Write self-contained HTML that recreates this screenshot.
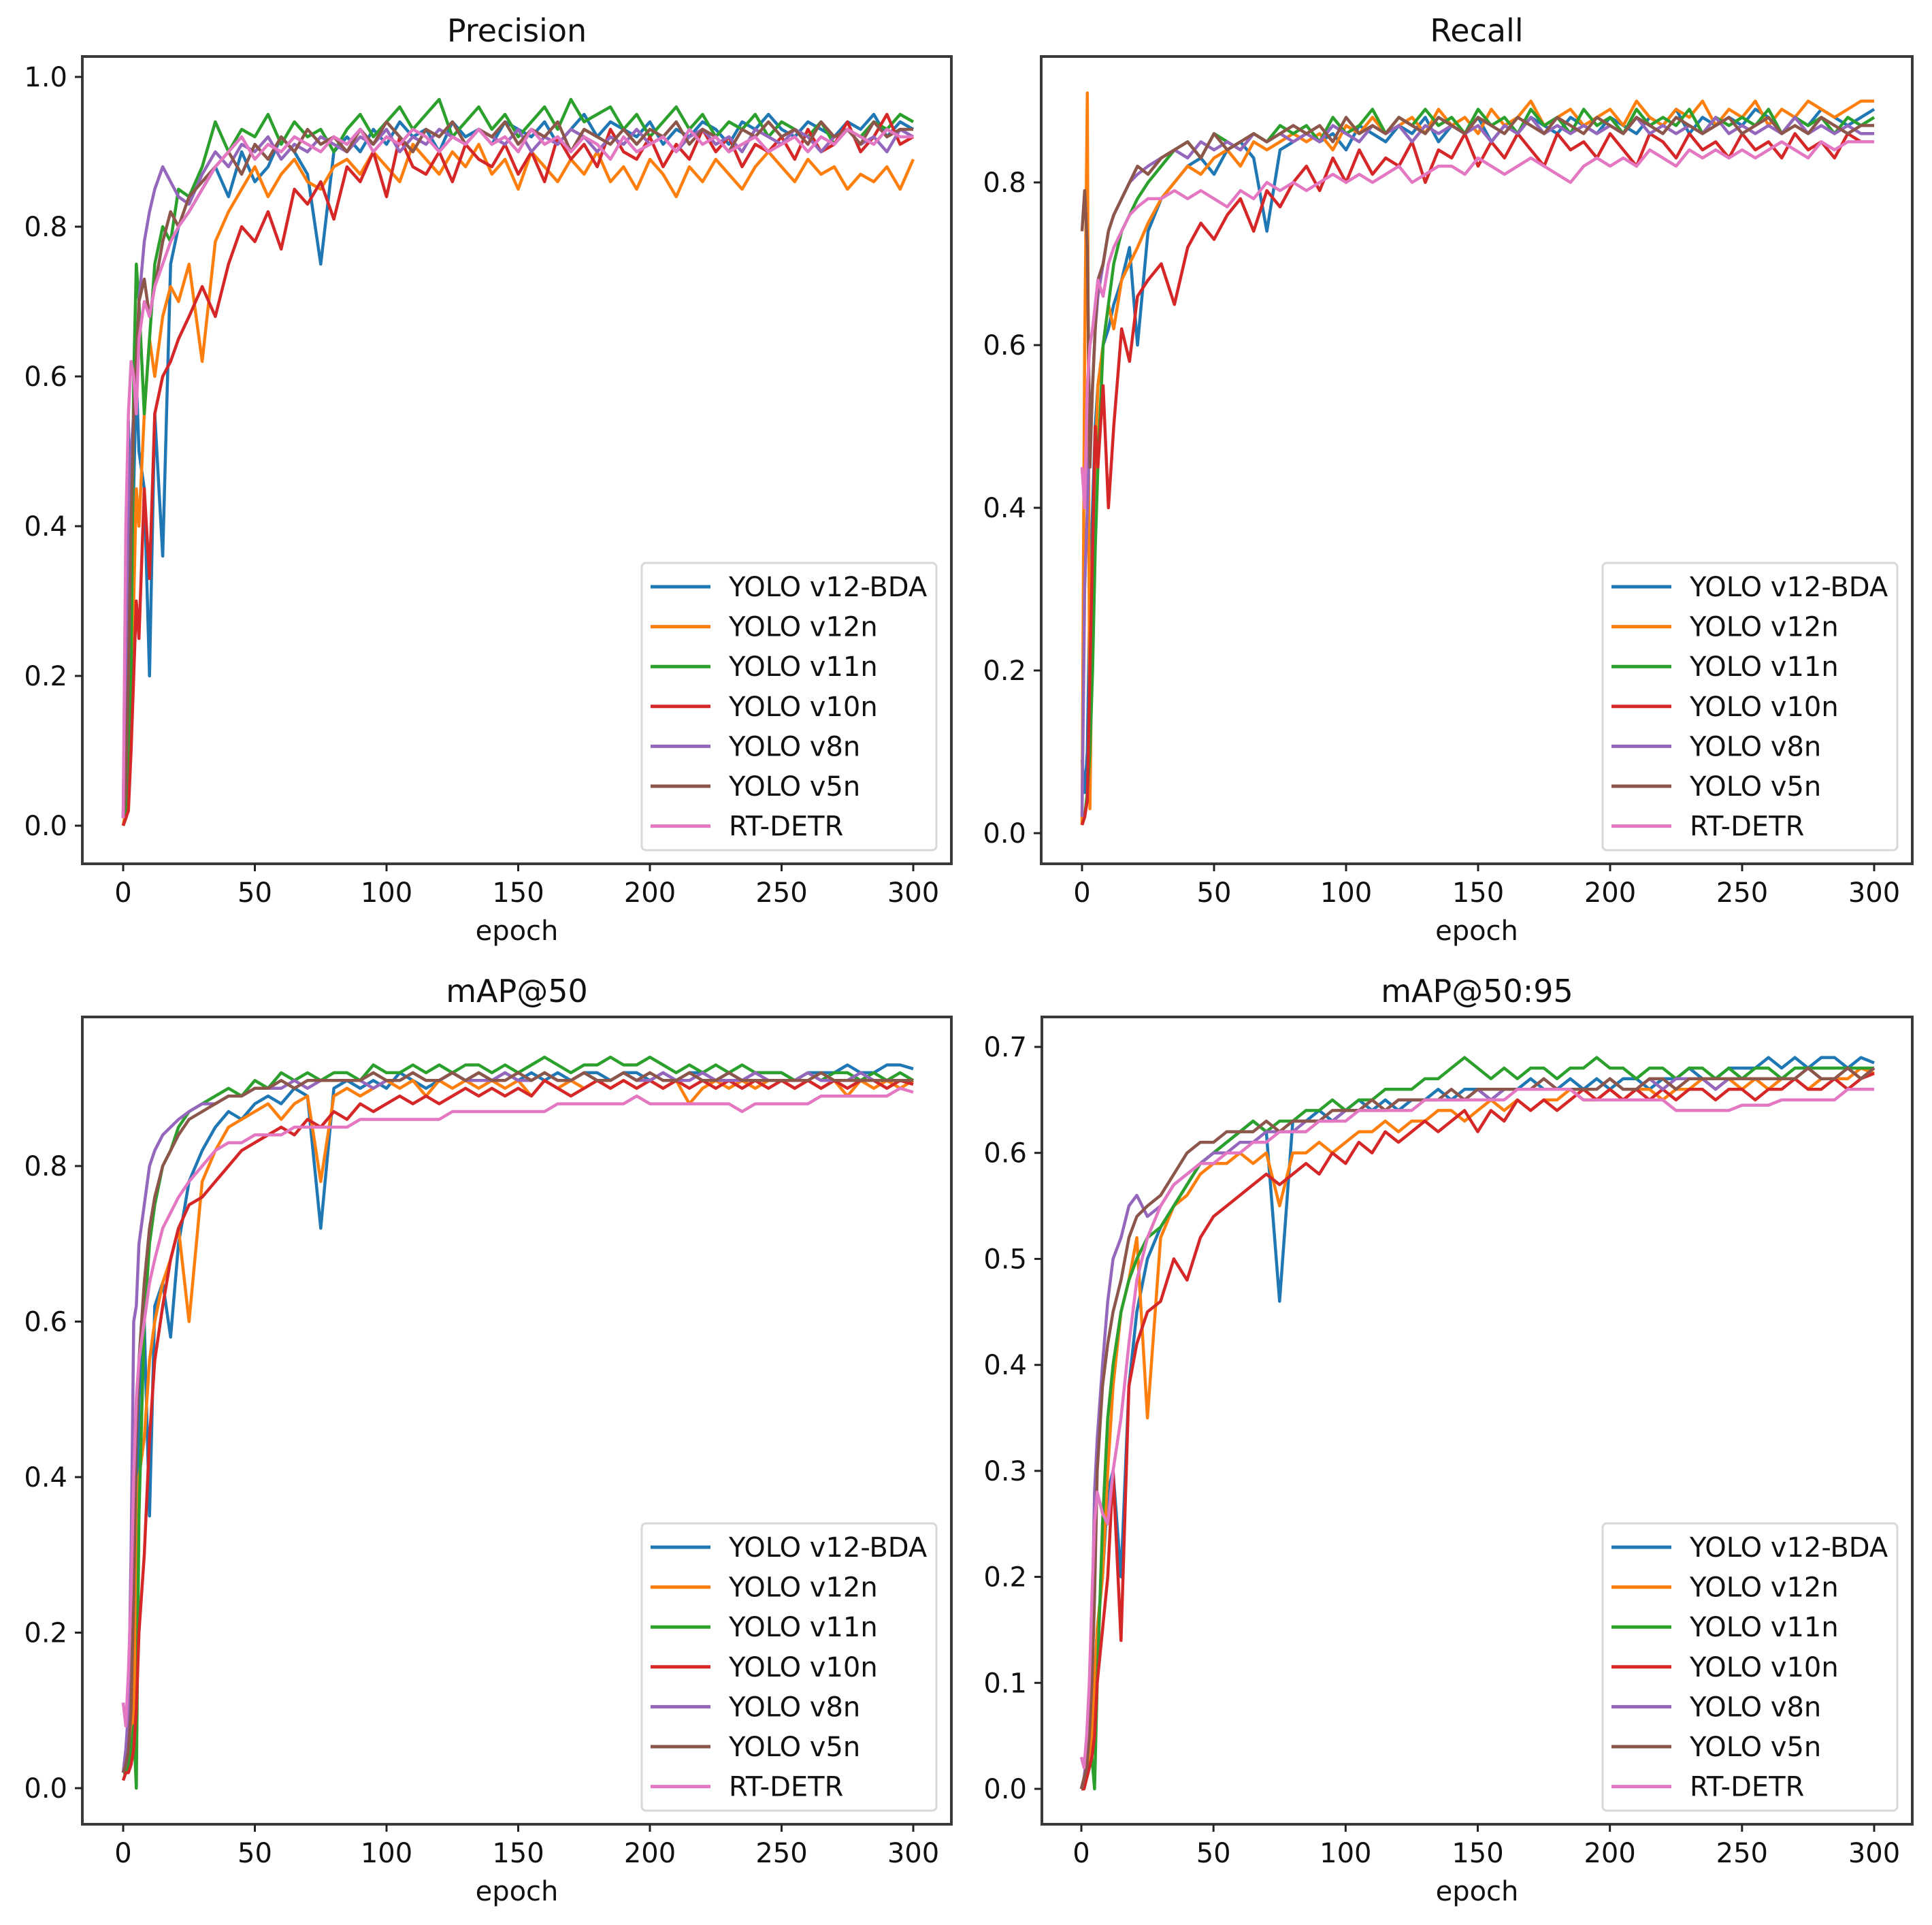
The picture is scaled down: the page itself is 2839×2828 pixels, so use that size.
<!DOCTYPE html>
<html><head><meta charset="utf-8">
<style>
html,body{margin:0;padding:0;background:#fff;}
svg{display:block;font-family:"DejaVu Sans","Liberation Sans",sans-serif;}
</style></head>
<body>
<svg id="fig" width="2839" height="2828" viewBox="0 0 2839 2828" xmlns="http://www.w3.org/2000/svg"></svg>
<script>
const epochs = [0,1,2,3,4,5,6,8,10,12,15,18,21,25,
30,35,40,45,50,55,60,65,70,75,80,85,90,95,100,105,110,115,120,125,130,135,140,145,150,155,160,165,170,175,180,185,190,195,200,205,210,215,220,225,230,235,240,245,250,255,260,265,270,275,280,285,290,295,300];
const seriesNames = ["YOLO v12-BDA","YOLO v12n","YOLO v11n","YOLO v10n","YOLO v8n","YOLO v5n","RT-DETR"];
const seriesColors = ["#1f77b4","#ff7f0e","#2ca02c","#d62728","#9467bd","#8c564b","#e377c2"];
const xTicks = [0,50,100,150,200,250,300];

const precisionBDA = [0.01,0.30,0.54,0.20,0.45,0.60,0.50,0.45,0.20,0.55,0.36,0.75,0.80,0.82,
0.85,0.88,0.84,0.90,0.86,0.88,0.92,0.90,0.87,0.75,0.90, 0.92,0.90,0.93,0.91,0.94,0.92,0.93,0.90,0.94,0.92,0.93,
0.91,0.94,0.93,0.92,0.94,0.91,0.93,0.95,0.92,0.94,0.93, 0.92,0.94,0.91,0.93,0.92,0.94,0.93,0.91,0.94,0.93,0.95,
0.93,0.92,0.94,0.93,0.92,0.94,0.93,0.95,0.92,0.94,0.93];
const precisionV12n = [0.00,0.02,0.05,0.10,0.30,0.45,0.40,0.55,0.65,0.60,0.68,0.72,0.70,0.75,
0.62,0.78,0.82,0.85,0.88,0.84,0.87,0.89,0.86,0.85,0.88, 0.89,0.87,0.90,0.88,0.86,0.91,0.89,0.87,0.90,0.88,0.91,
0.87,0.89,0.85,0.90,0.88,0.86,0.89,0.87,0.90,0.86,0.88, 0.85,0.89,0.87,0.84,0.88,0.86,0.89,0.87,0.85,0.88,0.90,
0.88,0.86,0.89,0.87,0.88,0.85,0.87,0.86,0.88,0.85,0.89];
const precisionV11n = [0.00,0.01,0.05,0.20,0.60,0.75,0.70,0.55,0.65,0.75,0.80,0.78,0.85,0.84,
0.88,0.94,0.90,0.93,0.92,0.95,0.91,0.94,0.92,0.93,0.90, 0.93,0.95,0.92,0.94,0.96,0.93,0.95,0.97,0.92,0.94,0.96,
0.93,0.95,0.92,0.94,0.96,0.93,0.97,0.94,0.95,0.96,0.93, 0.95,0.92,0.94,0.96,0.93,0.95,0.92,0.94,0.93,0.95,0.92,
0.94,0.93,0.92,0.94,0.91,0.93,0.92,0.94,0.93,0.95,0.94];
const precisionV10n = [0.00,0.01,0.02,0.10,0.20,0.30,0.25,0.45,0.33,0.55,0.60,0.62,0.65,0.68,
0.72,0.68,0.75,0.80,0.78,0.82,0.77,0.85,0.83,0.86,0.81, 0.88,0.86,0.90,0.84,0.92,0.88,0.87,0.90,0.86,0.91,0.89,
0.88,0.91,0.87,0.90,0.86,0.92,0.89,0.91,0.88,0.93,0.90, 0.89,0.92,0.88,0.91,0.89,0.93,0.90,0.92,0.88,0.91,0.90,
0.92,0.89,0.93,0.90,0.91,0.94,0.90,0.92,0.95,0.91,0.92];
const precisionV8n = [0.01,0.20,0.40,0.50,0.55,0.60,0.70,0.78,0.82,0.85,0.88,0.86,0.84,0.83,
0.87,0.90,0.88,0.91,0.90,0.92,0.89,0.91,0.90,0.92,0.91, 0.90,0.92,0.91,0.93,0.90,0.92,0.91,0.93,0.92,0.91,0.93,
0.92,0.91,0.93,0.90,0.92,0.91,0.93,0.92,0.90,0.92,0.91, 0.93,0.91,0.92,0.90,0.92,0.93,0.91,0.92,0.90,0.93,0.92,
0.91,0.93,0.92,0.90,0.92,0.93,0.91,0.92,0.90,0.93,0.92];
const precisionV5n = [0.01,0.05,0.20,0.40,0.55,0.62,0.70,0.73,0.68,0.72,0.78,0.82,0.80,0.84,
0.86,0.88,0.90,0.87,0.91,0.89,0.92,0.90,0.93,0.91,0.92, 0.90,0.93,0.91,0.94,0.92,0.90,0.93,0.92,0.94,0.91,0.93,
0.92,0.94,0.91,0.93,0.92,0.94,0.90,0.93,0.92,0.91,0.93, 0.91,0.93,0.92,0.94,0.91,0.93,0.92,0.90,0.93,0.92,0.94,
0.92,0.93,0.91,0.94,0.92,0.93,0.91,0.94,0.92,0.93,0.93];
const precisionRT = [0.01,0.40,0.55,0.62,0.60,0.55,0.65,0.70,0.68,0.72,0.75,0.78,0.80,0.82,
0.85,0.88,0.90,0.92,0.89,0.91,0.90,0.92,0.91,0.90,0.92, 0.91,0.93,0.90,0.92,0.91,0.93,0.92,0.90,0.92,0.91,0.93,
0.91,0.92,0.90,0.93,0.91,0.92,0.90,0.92,0.91,0.89,0.92, 0.90,0.91,0.92,0.90,0.93,0.91,0.92,0.90,0.91,0.92,0.90,
0.91,0.92,0.90,0.92,0.91,0.93,0.92,0.91,0.93,0.92,0.92];

const recallBDA = [0.09,0.05,0.10,0.30,0.40,0.50,0.55,0.60,0.62,0.65,0.68,0.72,0.60,0.74,
0.78,0.80,0.82,0.83,0.81,0.84,0.85,0.83,0.74,0.84,0.85, 0.86,0.85,0.86,0.84,0.87,0.86,0.85,0.87,0.86,0.88,0.85,
0.87,0.86,0.88,0.85,0.87,0.86,0.88,0.87,0.86,0.88,0.87, 0.86,0.88,0.87,0.86,0.88,0.87,0.89,0.86,0.88,0.87,0.88,
0.87,0.89,0.88,0.86,0.88,0.87,0.89,0.88,0.87,0.88,0.89];
const recallV12n = [0.01,0.60,0.91,0.03,0.30,0.45,0.55,0.60,0.65,0.62,0.68,0.70,0.72,0.75,
0.78,0.80,0.82,0.81,0.83,0.84,0.82,0.85,0.84,0.85,0.86, 0.85,0.86,0.84,0.87,0.86,0.88,0.86,0.87,0.88,0.86,0.89,
0.87,0.88,0.86,0.89,0.87,0.88,0.90,0.87,0.88,0.89,0.87, 0.88,0.89,0.87,0.90,0.88,0.87,0.89,0.88,0.90,0.87,0.89,
0.88,0.90,0.87,0.89,0.88,0.90,0.89,0.88,0.89,0.90,0.90];
const recallV11n = [0.01,0.02,0.05,0.10,0.20,0.35,0.45,0.60,0.65,0.70,0.74,0.76,0.78,0.80,
0.82,0.84,0.85,0.83,0.86,0.85,0.84,0.86,0.85,0.87,0.86, 0.87,0.85,0.88,0.86,0.87,0.89,0.86,0.88,0.87,0.89,0.87,
0.88,0.86,0.89,0.87,0.88,0.86,0.89,0.87,0.88,0.86,0.89, 0.87,0.88,0.86,0.89,0.87,0.88,0.87,0.89,0.86,0.88,0.87,
0.88,0.87,0.89,0.86,0.88,0.87,0.88,0.86,0.88,0.87,0.88];
const recallV10n = [0.01,0.02,0.04,0.20,0.35,0.50,0.45,0.55,0.40,0.50,0.62,0.58,0.66,0.68,
0.70,0.65,0.72,0.75,0.73,0.76,0.78,0.74,0.79,0.77,0.80, 0.82,0.79,0.83,0.80,0.84,0.81,0.83,0.82,0.85,0.80,0.84,
0.83,0.86,0.82,0.85,0.83,0.86,0.84,0.82,0.86,0.84,0.85, 0.83,0.86,0.84,0.82,0.86,0.85,0.83,0.86,0.84,0.85,0.83,
0.86,0.84,0.85,0.83,0.86,0.84,0.85,0.83,0.86,0.85,0.85];
const recallV8n = [0.02,0.30,0.40,0.50,0.55,0.62,0.66,0.70,0.74,0.76,0.78,0.80,0.81,0.82,
0.83,0.84,0.83,0.85,0.84,0.85,0.84,0.86,0.85,0.86,0.85, 0.86,0.85,0.87,0.86,0.85,0.87,0.86,0.87,0.85,0.87,0.86,
0.87,0.86,0.87,0.85,0.87,0.86,0.88,0.86,0.87,0.86,0.87, 0.86,0.87,0.86,0.88,0.86,0.87,0.86,0.87,0.86,0.88,0.86,
0.87,0.86,0.87,0.86,0.88,0.86,0.87,0.86,0.87,0.86,0.86];
const recallV5n = [0.74,0.79,0.72,0.45,0.55,0.62,0.68,0.70,0.74,0.76,0.78,0.80,0.82,0.81,
0.83,0.84,0.85,0.83,0.86,0.84,0.85,0.86,0.85,0.86,0.87, 0.86,0.87,0.85,0.88,0.86,0.87,0.86,0.88,0.87,0.86,0.88,
0.87,0.86,0.88,0.87,0.86,0.88,0.87,0.86,0.88,0.87,0.86, 0.88,0.87,0.86,0.88,0.87,0.86,0.88,0.87,0.86,0.87,0.88,
0.86,0.87,0.88,0.86,0.87,0.86,0.88,0.87,0.86,0.87,0.87];
const recallRT = [0.45,0.40,0.55,0.60,0.62,0.65,0.68,0.66,0.70,0.72,0.74,0.76,0.77,0.78,
0.78,0.79,0.78,0.79,0.78,0.77,0.79,0.78,0.80,0.79,0.80, 0.79,0.80,0.81,0.80,0.81,0.80,0.81,0.82,0.80,0.81,0.82,
0.82,0.81,0.83,0.82,0.81,0.82,0.83,0.82,0.81,0.80,0.82, 0.83,0.82,0.83,0.82,0.84,0.83,0.82,0.84,0.83,0.84,0.83,
0.84,0.83,0.84,0.85,0.84,0.83,0.85,0.84,0.85,0.85,0.85];

const map50BDA = [0.02,0.02,0.03,0.05,0.10,0.30,0.50,0.60,0.35,0.62,0.65,0.58,0.70,0.78,
0.82,0.85,0.87,0.86,0.88,0.89,0.88,0.90,0.89,0.72,0.90, 0.91,0.90,0.91,0.90,0.92,0.91,0.90,0.91,0.92,0.91,0.92,
0.91,0.92,0.91,0.92,0.91,0.92,0.91,0.92,0.92,0.91,0.92, 0.92,0.91,0.92,0.91,0.92,0.92,0.91,0.92,0.91,0.92,0.92,
0.92,0.91,0.92,0.92,0.92,0.93,0.92,0.92,0.93,0.93,0.925];
const map50V12n = [0.02,0.02,0.03,0.05,0.10,0.25,0.40,0.45,0.55,0.60,0.65,0.68,0.72,0.60,
0.78,0.82,0.85,0.86,0.87,0.88,0.86,0.88,0.89,0.78,0.89, 0.90,0.89,0.90,0.91,0.90,0.91,0.89,0.91,0.90,0.91,0.90,
0.91,0.90,0.91,0.89,0.91,0.90,0.91,0.90,0.91,0.90,0.91, 0.90,0.91,0.90,0.91,0.88,0.90,0.91,0.90,0.91,0.90,0.91,
0.91,0.90,0.91,0.90,0.91,0.89,0.91,0.90,0.91,0.90,0.91];
const map50V11n = [0.02,0.02,0.03,0.05,0.08,0.00,0.35,0.60,0.70,0.75,0.80,0.82,0.85,0.87,
0.88,0.89,0.90,0.89,0.91,0.90,0.92,0.91,0.92,0.91,0.92, 0.92,0.91,0.93,0.92,0.92,0.93,0.92,0.93,0.92,0.93,0.93,
0.92,0.93,0.92,0.93,0.94,0.93,0.92,0.93,0.93,0.94,0.93, 0.93,0.94,0.93,0.92,0.93,0.92,0.93,0.92,0.93,0.92,0.92,
0.92,0.91,0.92,0.91,0.92,0.92,0.91,0.92,0.91,0.92,0.91];
const map50V10n = [0.01,0.02,0.02,0.03,0.05,0.10,0.20,0.30,0.45,0.55,0.62,0.68,0.72,0.75,
0.76,0.78,0.80,0.82,0.83,0.84,0.85,0.84,0.86,0.85,0.87, 0.86,0.88,0.87,0.88,0.89,0.88,0.89,0.88,0.89,0.90,0.89,
0.90,0.89,0.90,0.89,0.91,0.90,0.89,0.90,0.91,0.90,0.91, 0.90,0.91,0.90,0.91,0.90,0.91,0.90,0.91,0.90,0.91,0.90,
0.91,0.90,0.91,0.90,0.91,0.90,0.91,0.91,0.90,0.91,0.905];
const map50V8n = [0.02,0.05,0.10,0.30,0.60,0.62,0.70,0.75,0.80,0.82,0.84,0.85,0.86,0.87,
0.88,0.88,0.89,0.89,0.90,0.90,0.90,0.91,0.90,0.91,0.91, 0.91,0.91,0.90,0.91,0.91,0.92,0.91,0.91,0.92,0.91,0.91,
0.91,0.92,0.91,0.91,0.92,0.91,0.91,0.92,0.91,0.91,0.92, 0.91,0.91,0.92,0.91,0.91,0.92,0.91,0.91,0.91,0.92,0.91,
0.91,0.91,0.92,0.91,0.91,0.91,0.92,0.91,0.91,0.91,0.91];
const map50V5n = [0.02,0.03,0.05,0.10,0.25,0.45,0.55,0.65,0.72,0.76,0.80,0.82,0.84,0.86,
0.87,0.88,0.89,0.89,0.90,0.90,0.91,0.90,0.91,0.91,0.91, 0.91,0.91,0.92,0.91,0.91,0.92,0.91,0.91,0.92,0.91,0.92,
0.91,0.91,0.92,0.91,0.92,0.91,0.91,0.92,0.91,0.91,0.92, 0.91,0.92,0.91,0.91,0.92,0.91,0.91,0.92,0.91,0.91,0.91,
0.91,0.91,0.91,0.92,0.91,0.91,0.91,0.91,0.91,0.91,0.91];
const map50RT = [0.11,0.08,0.15,0.25,0.40,0.50,0.55,0.60,0.65,0.68,0.72,0.74,0.76,0.78,
0.80,0.82,0.83,0.83,0.84,0.84,0.84,0.85,0.85,0.85,0.85, 0.85,0.86,0.86,0.86,0.86,0.86,0.86,0.86,0.87,0.87,0.87,
0.87,0.87,0.87,0.87,0.87,0.88,0.88,0.88,0.88,0.88,0.88, 0.89,0.88,0.88,0.88,0.88,0.88,0.88,0.88,0.87,0.88,0.88,
0.88,0.88,0.88,0.89,0.89,0.89,0.89,0.89,0.89,0.90,0.895];

const map5095BDA = [0.00,0.01,0.02,0.03,0.05,0.10,0.15,0.20,0.28,0.30,0.20,0.38,0.45,0.50,
0.53,0.55,0.57,0.59,0.60,0.61,0.62,0.63,0.62,0.46,0.63, 0.63,0.64,0.63,0.64,0.65,0.64,0.65,0.64,0.65,0.65,0.66,
0.65,0.66,0.66,0.65,0.66,0.66,0.67,0.66,0.66,0.67,0.66, 0.67,0.66,0.67,0.67,0.66,0.67,0.67,0.68,0.67,0.67,0.68,
0.68,0.68,0.69,0.68,0.69,0.68,0.69,0.69,0.68,0.69,0.685];
const map5095V12n = [0.00,0.01,0.02,0.03,0.05,0.10,0.15,0.20,0.30,0.38,0.45,0.48,0.52,0.35,
0.52,0.55,0.56,0.58,0.59,0.59,0.60,0.59,0.60,0.55,0.60, 0.60,0.61,0.60,0.61,0.62,0.62,0.63,0.62,0.63,0.63,0.64,
0.64,0.63,0.64,0.65,0.64,0.65,0.64,0.65,0.65,0.66,0.65, 0.65,0.66,0.65,0.66,0.66,0.65,0.66,0.66,0.67,0.66,0.67,
0.66,0.67,0.66,0.67,0.67,0.66,0.67,0.67,0.67,0.68,0.675];
const map5095V11n = [0.00,0.00,0.01,0.02,0.03,0.00,0.10,0.25,0.35,0.40,0.45,0.48,0.50,0.52,
0.53,0.55,0.57,0.59,0.60,0.61,0.62,0.63,0.62,0.63,0.63, 0.64,0.64,0.65,0.64,0.65,0.65,0.66,0.66,0.66,0.67,0.67,
0.68,0.69,0.68,0.67,0.68,0.67,0.68,0.68,0.67,0.68,0.68, 0.69,0.68,0.68,0.67,0.68,0.68,0.67,0.68,0.68,0.67,0.68,
0.67,0.68,0.68,0.67,0.68,0.68,0.68,0.68,0.68,0.68,0.68];
const map5095V10n = [0.00,0.00,0.01,0.02,0.03,0.05,0.10,0.15,0.20,0.30,0.14,0.38,0.42,0.45,
0.46,0.50,0.48,0.52,0.54,0.55,0.56,0.57,0.58,0.57,0.58, 0.59,0.58,0.60,0.59,0.61,0.60,0.62,0.61,0.62,0.63,0.62,
0.63,0.64,0.62,0.64,0.63,0.65,0.64,0.65,0.64,0.65,0.66, 0.65,0.66,0.65,0.66,0.65,0.66,0.65,0.66,0.66,0.65,0.66,
0.66,0.65,0.66,0.66,0.67,0.66,0.66,0.67,0.66,0.67,0.675];
const map5095V8n = [0.00,0.01,0.03,0.08,0.15,0.28,0.33,0.40,0.46,0.50,0.52,0.55,0.56,0.54,
0.55,0.57,0.58,0.59,0.60,0.60,0.61,0.61,0.62,0.62,0.62, 0.63,0.63,0.63,0.64,0.64,0.64,0.64,0.65,0.65,0.65,0.65,
0.65,0.65,0.66,0.65,0.66,0.66,0.66,0.66,0.66,0.66,0.66, 0.66,0.67,0.66,0.66,0.67,0.66,0.67,0.67,0.67,0.66,0.67,
0.67,0.67,0.67,0.67,0.67,0.68,0.67,0.67,0.68,0.67,0.68];
const map5095V5n = [0.00,0.01,0.02,0.05,0.10,0.18,0.30,0.38,0.42,0.45,0.48,0.52,0.54,0.55,
0.56,0.58,0.60,0.61,0.61,0.62,0.62,0.62,0.63,0.62,0.63, 0.63,0.63,0.64,0.64,0.64,0.65,0.64,0.65,0.65,0.65,0.65,
0.66,0.65,0.66,0.66,0.66,0.66,0.66,0.67,0.66,0.66,0.66, 0.66,0.67,0.66,0.66,0.67,0.67,0.66,0.67,0.67,0.67,0.67,
0.67,0.67,0.67,0.67,0.67,0.68,0.67,0.67,0.68,0.67,0.68];
const map5095RT = [0.03,0.02,0.05,0.10,0.18,0.25,0.28,0.26,0.25,0.30,0.35,0.42,0.48,0.52,
0.55,0.57,0.58,0.59,0.59,0.60,0.60,0.61,0.61,0.62,0.62, 0.62,0.63,0.63,0.63,0.64,0.64,0.64,0.64,0.64,0.65,0.65,
0.65,0.65,0.65,0.65,0.65,0.66,0.66,0.66,0.66,0.66,0.65, 0.65,0.65,0.65,0.65,0.65,0.65,0.64,0.64,0.64,0.64,0.64,
0.645,0.645,0.645,0.65,0.65,0.65,0.65,0.65,0.66,0.66,0.66];

const precisionTicks = [0.0,0.2,0.4,0.6,0.8,1.0];
const recallTicks = [0.0,0.2,0.4,0.6,0.8];
const map50Ticks = [0.0,0.2,0.4,0.6,0.8];
const map5095Ticks = [0.0,0.1,0.2,0.3,0.4,0.5,0.6,0.7];

const NS = "http://www.w3.org/2000/svg";
const fig = document.getElementById("fig");
function mk(tag, attrs, parent) {
  const e = document.createElementNS(NS, tag);
  for (const k in attrs) e.setAttribute(k, attrs[k]);
  (parent || fig).appendChild(e);
  return e;
}

const panels = [
  {key:"precision", title:"Precision", box:[121,83,1398,1269], x0:181, x300:1342, yA:0, pA:1213, yB:1.0, pB:113, ticks:precisionTicks,
   data:[precisionBDA,precisionV12n,precisionV11n,precisionV10n,precisionV8n,precisionV5n,precisionRT]},
  {key:"recall", title:"Recall", box:[1530,83,2810,1269], x0:1590, x300:2754, yA:0, pA:1224, yB:0.8, pB:268, ticks:recallTicks,
   data:[recallBDA,recallV12n,recallV11n,recallV10n,recallV8n,recallV5n,recallRT]},
  {key:"map50", title:"mAP@50", box:[121,1494,1398,2680], x0:181, x300:1342, yA:0, pA:2627, yB:0.8, pB:1713, ticks:map50Ticks,
   data:[map50BDA,map50V12n,map50V11n,map50V10n,map50V8n,map50V5n,map50RT]},
  {key:"map50-95", title:"mAP@50:95", box:[1531,1494,2810,2680], x0:1589, x300:2754, yA:0, pA:2628, yB:0.7, pB:1538, ticks:map5095Ticks,
   data:[map5095BDA,map5095V12n,map5095V11n,map5095V10n,map5095V8n,map5095V5n,map5095RT]}
];

panels.forEach(p => {
  const [L,T,R,B] = p.box;
  const g = mk("g", {});
  
  
  const xs = v => p.x0 + (p.x300 - p.x0) * v / 300;
  const ys = v => p.pA + (p.pB - p.pA) * (v - p.yA) / (p.yB - p.yA);

  const clipId = "clip-" + p.key;
  const cp = mk("clipPath", {id: clipId}, g);
  mk("rect", {x:L, y:T, width:R-L, height:B-T}, cp);

  const lines = mk("g", {"clip-path": "url(#" + clipId + ")"}, g);
  
  
  p.data.forEach((arr, si) => {
    const pts = arr.map((v, i) => xs(epochs[i]).toFixed(1) + "," + ys(v).toFixed(1)).join(" ");
    const pl = mk("polyline", {points: pts, fill: "none", stroke: seriesColors[si], "stroke-width": 4.5, "stroke-linejoin": "round"}, lines);
    
    
  });

  const frame = mk("rect", {x:L, y:T, width:R-L, height:B-T, fill:"none", stroke:"#3a3a3a", "stroke-width":4}, g);
  
  

  const title = mk("text", {x:(L+R)/2, y:T-22, "text-anchor":"middle", "font-size":46, fill:"#111"}, g);
  title.textContent = p.title;
  
  

  p.ticks.forEach(t => {
    const y = ys(t);
    mk("line", {x1:L-11, x2:L, y1:y, y2:y, stroke:"#222", "stroke-width":3}, g);
    const tl = mk("text", {x:L-22, y:y+14, "text-anchor":"end", "font-size":40, fill:"#111"}, g);
    tl.textContent = t.toFixed(1);
    
    
  });
  xTicks.forEach(t => {
    const x = xs(t);
    mk("line", {x1:x, x2:x, y1:B, y2:B+11, stroke:"#222", "stroke-width":3}, g);
    const tl = mk("text", {x:x, y:B+56, "text-anchor":"middle", "font-size":40, fill:"#111"}, g);
    tl.textContent = String(t);
    
    
  });
  const xl = mk("text", {x:(L+R)/2, y:B+112, "text-anchor":"middle", "font-size":40, fill:"#111"}, g);
  xl.textContent = "epoch";
  
  

  // legend
  const lg = mk("g", {}, g);
  
  
  const lw = 433, lh = 422;
  const lx = R - 22 - lw, ly = B - 20 - lh;
  mk("rect", {x:lx, y:ly, width:lw, height:lh, rx:6, fill:"#fff", "fill-opacity":0.85, stroke:"#d8d8d8", "stroke-width":3}, lg);
  seriesNames.forEach((n, i) => {
    const cy = ly + 35 + i * 58.6;
    const ent = mk("g", {}, lg);
    
    
    mk("line", {x1:lx+13, x2:lx+101, y1:cy, y2:cy, stroke:seriesColors[i], "stroke-width":5}, ent);
    const t = mk("text", {x:lx+128, y:cy+14, "font-size":40, fill:"#111"}, ent);
    t.textContent = n;
  });
});
</script>
</body></html>
